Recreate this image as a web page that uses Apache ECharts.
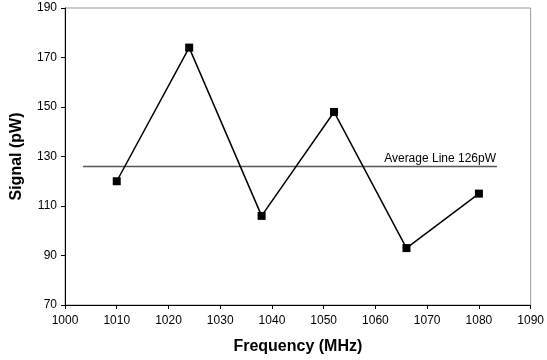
<!DOCTYPE html>
<html>
<head>
<meta charset="utf-8">
<script src="https://cdn.jsdelivr.net/npm/echarts@6/dist/echarts.min.js"></script>
<style>
  html, body { margin: 0; padding: 0; background: #fff; }
  #chart { width: 547px; height: 360px; }
</style>
</head>
<body>
<div id="chart"></div>
<script>
// data
const freqs = [1010, 1024, 1038, 1052, 1066, 1080]
const signal = [120, 174, 106, 148, 93, 115]
const avgValue = 126
const avgSpan = [1003.5, 1083.5]

const myChart = echarts.init(document.getElementById('chart'))
const font = 'Arial, "Liberation Sans", sans-serif'

const option = {
  backgroundColor: '#fff',
  animation: false,
  grid: {
    left: 65,
    right: 16,
    top: 8,
    bottom: 55,
    show: true,
    borderColor: '#999',
    borderWidth: 1
  },
  xAxis: {
    type: 'value',
    min: 1000,
    max: 1090,
    interval: 10,
    name: 'Frequency (MHz)',
    nameLocation: 'middle',
    nameGap: 34,
    nameTextStyle: { color: '#000', fontFamily: font, fontSize: 16, fontWeight: 'bold' },
    axisLine: { lineStyle: { color: '#000', width: 1 } },
    axisTick: { show: true, length: 4, lineStyle: { color: '#000' } },
    axisLabel: { color: '#000', fontFamily: font, fontSize: 12, margin: 10, formatter: v => String(v) },
    splitLine: { show: false }
  },
  yAxis: {
    type: 'value',
    min: 70,
    max: 190,
    interval: 20,
    name: 'Signal (pW)',
    nameLocation: 'middle',
    nameGap: 40,
    nameTextStyle: { color: '#000', fontFamily: font, fontSize: 16, fontWeight: 'bold' },
    axisLine: { show: true, lineStyle: { color: '#000', width: 1 } },
    axisTick: { show: true, length: 4, lineStyle: { color: '#000' } },
    axisLabel: { color: '#000', fontFamily: font, fontSize: 12, margin: 8 },
    splitLine: { show: false }
  },
  series: [
    {
      type: 'line',
      data: [[avgSpan[0], avgValue], [avgSpan[1], avgValue]],
      showSymbol: false,
      symbol: 'none',
      lineStyle: { color: '#555', width: 1.5 },
      endLabel: {
        show: true,
        formatter: 'Average Line ' + avgValue + 'pW',
        align: 'right',
        offset: [-9, -8],
        color: '#000',
        fontFamily: font,
        fontSize: 12
      },
      z: 1
    },
    {
      type: 'line',
      data: freqs.map((f, i) => [f, signal[i]]),
      symbol: 'rect',
      symbolSize: 8,
      itemStyle: { color: '#000' },
      lineStyle: { color: '#000', width: 1.5 },
      z: 2
    }
  ]
}
myChart.setOption(option)
</script>
</body>
</html>
